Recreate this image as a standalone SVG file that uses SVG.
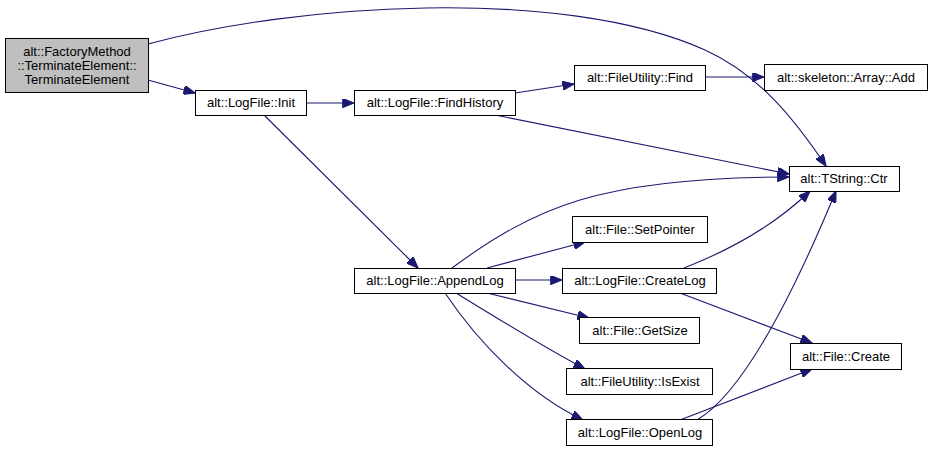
<svg xmlns="http://www.w3.org/2000/svg" width="932" height="451" viewBox="0 0 932 451">
<style>
.n rect{fill:#ffffff;stroke:#000000;stroke-width:1}
.n.g rect{fill:#bfbfbf}
.n text{font-family:"Liberation Sans",Arial,sans-serif;font-size:13px;fill:#000000;text-anchor:middle}
.e path{fill:none;stroke:#191970;stroke-width:1.1;marker-end:url(#a)}
</style>
<defs>
<marker id="a" viewBox="0 0 10 8" refX="10" refY="4" markerWidth="12" markerHeight="9" orient="auto" markerUnits="userSpaceOnUse">
<path d="M0,0 L10,4 L0,8 Z" fill="#191970" stroke="#191970"/>
</marker>
</defs>
<rect width="932" height="451" fill="#ffffff"/>
<g class="e" id="edges">
<path d="M148,44 C290,5 560,-15 705,50 C760,75 795,120 826,166"/>
<path d="M148,80 L195,93"/>
<path d="M306,103 L354,103"/>
<path d="M264,115 L418,268"/>
<path d="M515,93 L574,84"/>
<path d="M495,115 L789,174"/>
<path d="M705,77 L764,77"/>
<path d="M452,268 C490,240 530,215 580,200 C640,182 720,177 789,177"/>
<path d="M487,268 L585,242"/>
<path d="M515,280 L562,280"/>
<path d="M487,293 L589,318"/>
<path d="M456,293 C500,320 545,348 585,369"/>
<path d="M445,293 C480,345 530,395 583,420"/>
<path d="M684,268 C730,250 775,225 810,191"/>
<path d="M680,293 L812,343"/>
<path d="M680,420 L812,369"/>
<path d="M697,420 C745,392 795,290 836,191"/>
</g>
<g class="n g" id="n_factory"><rect x="5.5" y="38.5" width="143" height="54"/><text x="77" y="56">alt::FactoryMethod</text><text x="77" y="70">::TerminateElement::</text><text x="77" y="84">TerminateElement</text></g>
<g class="n" id="n_init"><rect x="195.5" y="90.5" width="111" height="25"/><text x="251" y="107">alt::LogFile::Init</text></g>
<g class="n" id="n_findhistory"><rect x="354.5" y="90.5" width="161" height="25"/><text x="435" y="107">alt::LogFile::FindHistory</text></g>
<g class="n" id="n_find"><rect x="574.5" y="65.5" width="131" height="25"/><text x="640" y="82">alt::FileUtility::Find</text></g>
<g class="n" id="n_add"><rect x="764.5" y="64.5" width="163" height="26"/><text x="846" y="82">alt::skeleton::Array::Add</text></g>
<g class="n" id="n_ctr"><rect x="789.5" y="166.5" width="110" height="25"/><text x="844" y="183">alt::TString::Ctr</text></g>
<g class="n" id="n_appendlog"><rect x="354.5" y="268.5" width="161" height="25"/><text x="435" y="285">alt::LogFile::AppendLog</text></g>
<g class="n" id="n_setpointer"><rect x="572.5" y="216.5" width="135" height="26"/><text x="640" y="234">alt::File::SetPointer</text></g>
<g class="n" id="n_createlog"><rect x="562.5" y="268.5" width="154" height="25"/><text x="640" y="285">alt::LogFile::CreateLog</text></g>
<g class="n" id="n_getsize"><rect x="579.5" y="317.5" width="120" height="26"/><text x="640" y="335">alt::File::GetSize</text></g>
<g class="n" id="n_isexist"><rect x="566.5" y="368.5" width="146" height="26"/><text x="640" y="386">alt::FileUtility::IsExist</text></g>
<g class="n" id="n_openlog"><rect x="566.5" y="419.5" width="146" height="26"/><text x="640" y="437">alt::LogFile::OpenLog</text></g>
<g class="n" id="n_create"><rect x="790.5" y="343.5" width="111" height="26"/><text x="846" y="361">alt::File::Create</text></g>
</svg>
